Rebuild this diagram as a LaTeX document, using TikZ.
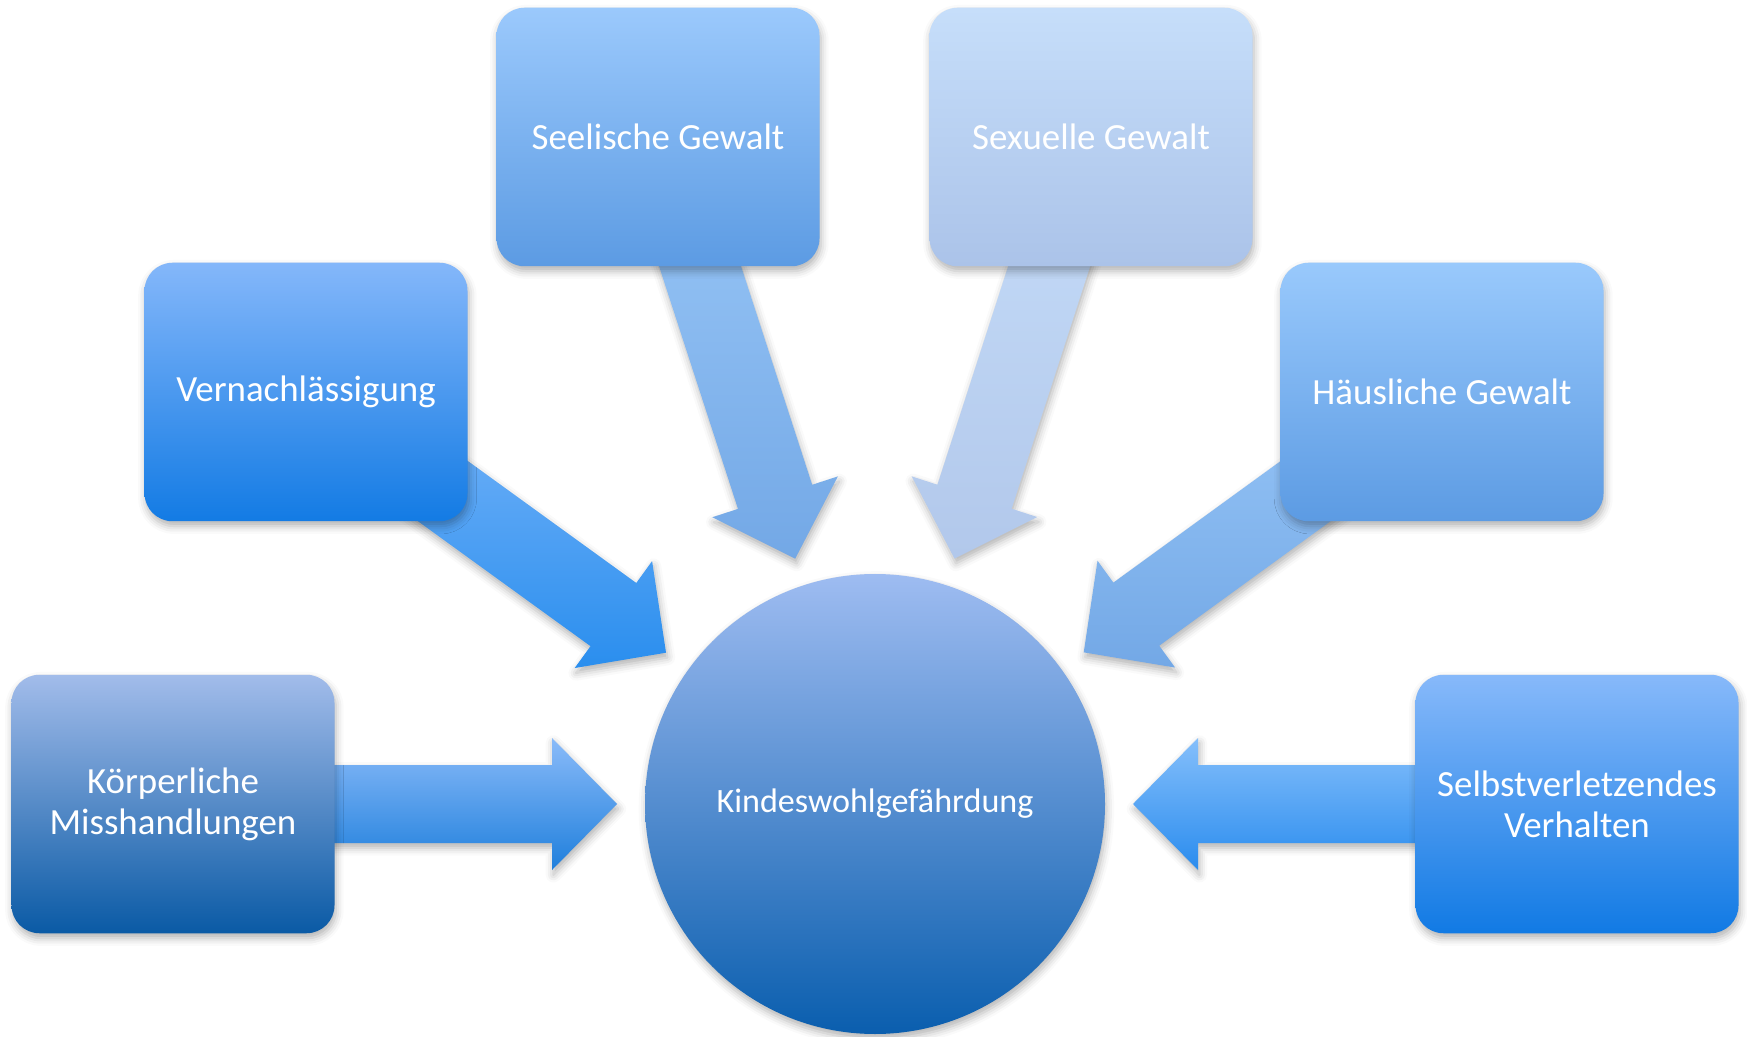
\documentclass[tikz,border=0pt]{standalone}
\usepackage{fontspec}
\setmainfont{Carlito}
\usetikzlibrary{calc,backgrounds,shadows.blur}

\definecolor{koerperTop}{HTML}{A2BCEA}  \definecolor{koerperBot}{HTML}{0A5AA5}
\definecolor{vernachTop}{HTML}{84B7FA}  \definecolor{vernachBot}{HTML}{137BE4}
\definecolor{seelTop}{HTML}{9BC9FC}     \definecolor{seelBot}{HTML}{5C9BE3}
\definecolor{sexTop}{HTML}{C6DEFA}      \definecolor{sexBot}{HTML}{ABC3E9}
\definecolor{haeusTop}{HTML}{99C9FC}    \definecolor{haeusBot}{HTML}{5C9BE3}
\definecolor{selbstTop}{HTML}{87B9FA}   \definecolor{selbstBot}{HTML}{117AE4}
\definecolor{kwgTop}{HTML}{9EBCF1}      \definecolor{kwgBot}{HTML}{0A5EAE}
% block arrows
\definecolor{aKoerperTop}{HTML}{8ABBF9} \definecolor{aKoerperBot}{HTML}{1F7FDC}
\definecolor{aVernachTop}{HTML}{7EB8FA} \definecolor{aVernachBot}{HTML}{2A8EEE}
\definecolor{aSeelTop}{HTML}{9CC9F8}    \definecolor{aSeelBot}{HTML}{73A8E6}
\definecolor{aSexTop}{HTML}{C6DDF9}     \definecolor{aSexBot}{HTML}{B2C8EB}
\definecolor{aHaeusTop}{HTML}{9AC8F8}   \definecolor{aHaeusBot}{HTML}{73A8E6}
\definecolor{aSelbstTop}{HTML}{85BFFB}  \definecolor{aSelbstBot}{HTML}{2A8CEE}

\begin{document}
\begin{tikzpicture}[
  soft/.style={blur shadow={shadow xshift=0.4pt, shadow yshift=-1.4pt,
               shadow blur radius=2.2pt, shadow opacity=30}},
  box/.style={rounded corners=0.28cm, minimum width=3.23cm, minimum height=2.585cm,
              inner sep=0pt, align=center, text=white, soft,
              font=\fontsize{10.5}{11.7}\selectfont},
  hub/.style={circle, minimum size=4.6cm, inner sep=0pt, text=white, soft,
              font=\fontsize{9.7}{11}\selectfont}
]
\useasboundingbox (0,0) rectangle (17.47,10.36);

\node[hub, top color=kwgTop, bottom color=kwgBot] (kwg) at (8.75,2.32) {Kindeswohlgefährdung};

\node[box, top color=koerperTop, bottom color=koerperBot] (koerper) at (1.73,2.32) {Körperliche\\Misshandlungen};
\node[box, top color=vernachTop, bottom color=vernachBot] (vernach) at (3.06,6.44) {Vernachlässigung};
\node[box, top color=seelTop, bottom color=seelBot] (seel) at (6.58,8.99) {Seelische Gewalt};
\node[box, top color=sexTop, bottom color=sexBot] (sex) at (10.91,8.99) {Sexuelle Gewalt};
\node[box, top color=haeusTop, bottom color=haeusBot] (haeus) at (14.42,6.44) {Häusliche Gewalt};
\node[box, top color=selbstTop, bottom color=selbstBot] (selbst) at (15.77,2.32) {Selbstverletzendes\\Verhalten};

% wide arrows from each box to the centre, kept behind the boxes
\begin{scope}[on background layer]
\foreach \src/\ctop/\cbot in {koerper/aKoerperTop/aKoerperBot, vernach/aVernachTop/aVernachBot,
    seel/aSeelTop/aSeelBot, sex/aSexTop/aSexBot, haeus/aHaeusTop/aHaeusBot,
    selbst/aSelbstTop/aSelbstBot}{
  \coordinate (tip) at ($(kwg.center)!2.58cm!(\src.center)$);
  \coordinate (neck) at ($(kwg.center)!3.23cm!(\src.center)$);
  \shade[top color=\ctop, bottom color=\cbot, soft]
    ($(\src.center)!0.39cm!90:(kwg.center)$) -- ($(neck)!0.39cm!90:(kwg.center)$)
    -- ($(neck)!0.66cm!90:(kwg.center)$) -- (tip) -- ($(neck)!0.66cm!-90:(kwg.center)$)
    -- ($(neck)!0.39cm!-90:(kwg.center)$) -- ($(\src.center)!0.39cm!-90:(kwg.center)$) -- cycle;
}
\end{scope}
\end{tikzpicture}
\end{document}
